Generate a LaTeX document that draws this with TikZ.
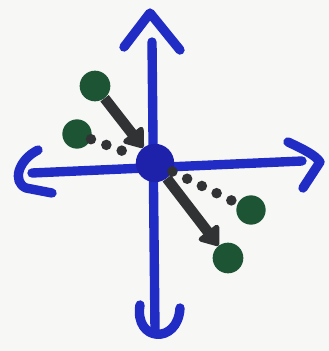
\documentclass[tikz,border=0pt]{standalone}
\usetikzlibrary{arrows.meta}
\definecolor{axisblue}{RGB}{32,44,196}
\definecolor{hubblue}{RGB}{30,34,170}
\definecolor{dotgreen}{RGB}{28,84,52}
\definecolor{inkgray}{RGB}{48,50,52}
\definecolor{paper}{RGB}{247,247,245}
\tikzset{
  axis/.style={axisblue, line width=8pt, line cap=round, line join=round},
  blob/.style={circle, fill=dotgreen, inner sep=0pt, minimum size=0.88cm},
  push/.style={inkgray, line width=9pt, -{Triangle[width=0.85cm, length=0.6cm, round]}},
  trail/.style={inkgray, line width=9pt, line cap=round, dash pattern=on 0pt off 14pt}
}
\begin{document}
\begin{tikzpicture}[x=0.03cm, y=-0.03cm]
  \fill[paper] (0,0) rectangle (329,351);

  % Axes
  \coordinate (top) at (152,42);
  \coordinate (bottom) at (155,330);
  \coordinate (west) at (32,173);
  \coordinate (east) at (302,161);
  \draw[axis] (top) -- (bottom);
  \draw[axis] (west) -- (east);
  \draw[axis] (124,47) -- (150,13) -- (180,50);
  \draw[axis] (140,305) .. controls (134,342) and (178,345) .. (180,308);
  \draw[axis] (38,150) .. controls (18,160) and (12,182) .. (26,188) -- (52,193);
  \draw[axis] (288,142) .. controls (305,150) and (315,155) .. (320,162) -- (303,188);

  % Nodes
  \node (origin) [circle, fill=hubblue, inner sep=0pt, minimum size=1.15cm] at (155,163) {};
  \node (upper) [blob, minimum size=0.92cm] at (95,86) {};
  \node (left) [blob] at (77,134) {};
  \node (right) [blob] at (251,210) {};
  \node (lower) [blob, minimum size=0.92cm] at (228,258) {};

  % Edges
  \draw[push] (upper) -- (origin);
  \draw[push] (origin) -- (lower);
  \draw[trail] (left) -- (origin);
  \draw[trail] (origin) -- (right);
\end{tikzpicture}
\end{document}
